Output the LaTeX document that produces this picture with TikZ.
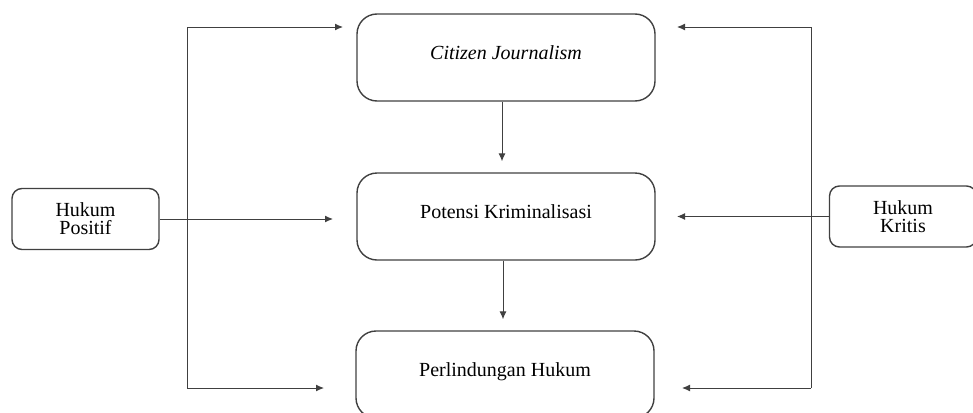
\documentclass[tikz,border=0pt]{standalone}
\usepackage{fontspec}
\setmainfont{Liberation Serif}
\usetikzlibrary{arrows.meta}

\begin{document}
\begin{tikzpicture}[x=0.5pt, y=-0.5pt,
    box/.style={draw=black!75, line width=0.7pt, rounded corners=10pt, minimum width=149pt, minimum height=43.5pt, text height=7pt, text depth=5pt, font=\fontsize{10}{9}\selectfont},
    small/.style={draw=black!75, line width=0.7pt, rounded corners=5pt, minimum width=73.5pt, minimum height=30.5pt, align=center, font=\fontsize{10}{9}\selectfont},
    arr/.style={draw=black!75, line width=0.5pt, -{Latex[length=4pt,width=3.5pt]}}]
                \useasboundingbox (0,0) rectangle (973,412);
                \node[box] (cj) at (506,57.5) {\textit{Citizen Journalism}};
                \node[box] (pot) at (506,216.5) {Potensi Kriminalisasi};
                \node[box] (perl) at (505,374.5) {Perlindungan Hukum};
                \node[small] (pos) at (85.5,219) {Hukum\\Positif};
                \node[small] (krit) at (903,216.5) {Hukum\\Kritis};
                \coordinate (l1) at (187,27);
                \coordinate (l3) at (187,388);
                \coordinate (r1) at (811,27);
                \coordinate (r3) at (811,388);
                \coordinate (lt1) at (343,27);
                \coordinate (lt2) at (333,219);
                \coordinate (lt3) at (324,388);
                \coordinate (rt1) at (677,27);
                \coordinate (rt2) at (677,216.5);
                \coordinate (rt3) at (682,388);
                \draw[draw=black!75, line width=0.5pt] (l1) -- (l3);
                \draw[draw=black!75, line width=0.5pt] (r1) -- (r3);
                \draw[arr] (l1) -- (lt1);
                \draw[arr] (pos.east) -- (lt2);
                \draw[arr] (l3) -- (lt3);
                \draw[arr] (r1) -- (rt1);
                \draw[arr] (krit.west) -- (rt2);
                \draw[arr] (r3) -- (rt3);
                \draw[arr, shorten >=5.5pt] (cj.south -| 502,0) -- (pot.north -| 502,0);
                \draw[arr, shorten >=5.5pt] (pot.south -| 503,0) -- (perl.north -| 503,0);
                \end{tikzpicture}
\end{document}
